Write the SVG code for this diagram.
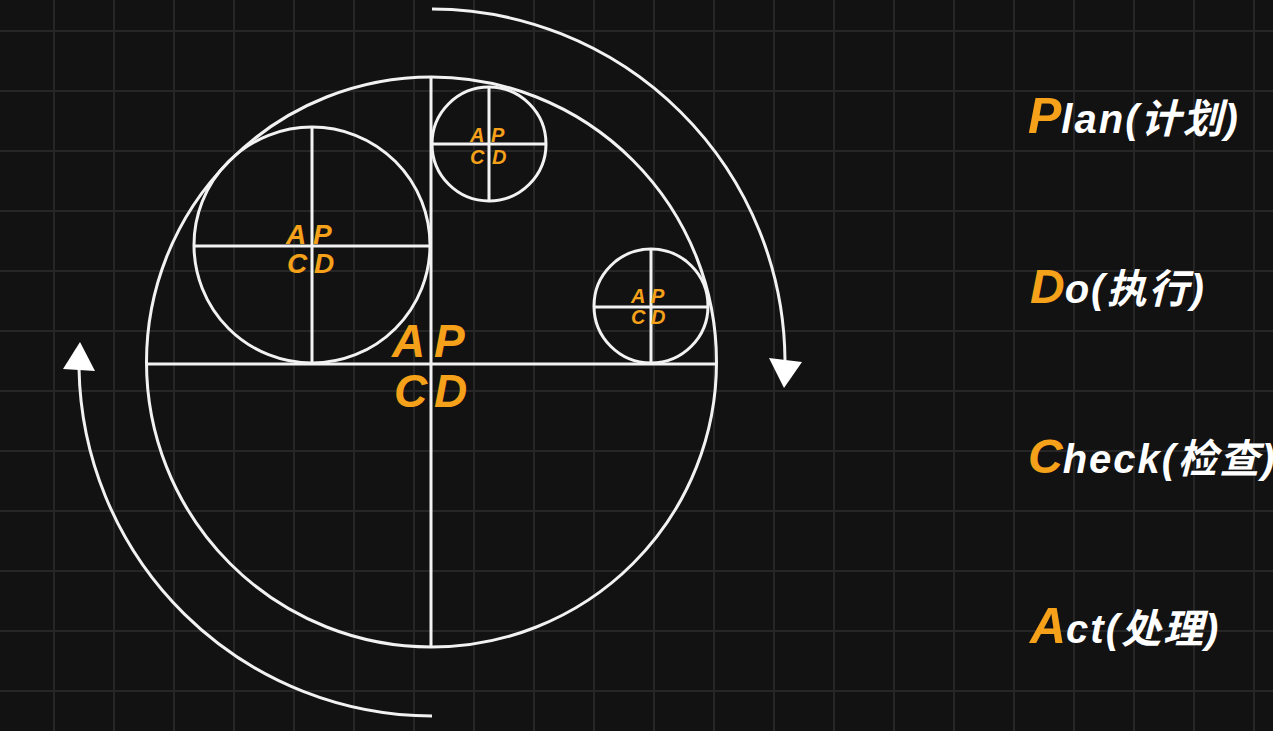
<svg xmlns="http://www.w3.org/2000/svg" width="1273" height="731" viewBox="0 0 1273 731">
<defs>
<style>
.grid{stroke:#262626;stroke-width:2;fill:none}
.ln{stroke:#f2f2f2;stroke-width:3;fill:none}
.arc{stroke:#f2f2f2;stroke-width:3;fill:none}
.head{fill:#ffffff}
.o{fill:#f5a11a;font-family:"Liberation Sans",Arial,sans-serif;font-weight:bold;font-style:italic}
.lbl{fill:#ffffff;font-family:"Liberation Sans","Noto Sans CJK SC",sans-serif;font-weight:bold;font-style:italic;font-size:40px;letter-spacing:2px}
.cap{fill:#f5a11a;font-family:"Liberation Sans",Arial,sans-serif;letter-spacing:0}
</style>
</defs>
<rect width="1273" height="731" fill="#121212"/>
<path class="grid" d="M54 0V731M114 0V731M174 0V731M234 0V731M294 0V731M354 0V731M414 0V731M474 0V731M534 0V731M594 0V731M654 0V731M714 0V731M774 0V731M834 0V731M894 0V731M954 0V731M1014 0V731M1074 0V731M1134 0V731M1194 0V731M1254 0V731M0 31H1273M0 91H1273M0 151H1273M0 211H1273M0 271H1273M0 331H1273M0 391H1273M0 451H1273M0 511H1273M0 571H1273M0 631H1273M0 691H1273"/>

<g id="main-circle">
<circle class="ln" cx="431.5" cy="362" r="285"/>
<path class="ln" d="M147 364H716M431 77V647"/>
<text class="o" font-size="46" x="392 434" y="357">AP</text>
<text class="o" font-size="46" x="394 434" y="407">CD</text>
</g>

<g id="left-circle">
<circle class="ln" cx="312" cy="245" r="118"/>
<path class="ln" d="M194 246H430M312 127V363"/>
<text class="o" font-size="28" x="286 313" y="244">AP</text>
<text class="o" font-size="28" x="287 314" y="273">CD</text>
</g>

<g id="top-circle">
<circle class="ln" cx="489" cy="144" r="57"/>
<path class="ln" d="M432 144H546M489 87V201"/>
<text class="o" font-size="20" x="470 491" y="142">AP</text>
<text class="o" font-size="20" x="470 492" y="164">CD</text>
</g>

<g id="right-circle">
<circle class="ln" cx="651" cy="306" r="57"/>
<path class="ln" d="M594 307H708M651 249V363"/>
<text class="o" font-size="20" x="631 651" y="303">AP</text>
<text class="o" font-size="20" x="631 651" y="324">CD</text>
</g>

<g id="connectors">
<path class="arc" d="M432 9A354 354 0 0 1 785 360"/>
<polygon class="head" points="769,358 802,362 784,388"/>
<path class="arc" d="M432 716A354 354 0 0 1 79 368"/>
<polygon class="head" points="80,342 63,369 95,371"/>
</g>

<g id="plan"><text class="lbl" x="1028" y="133"><tspan class="cap" font-size="50">P</tspan>lan(计划)</text></g>
<g id="do"><text class="lbl" x="1030" y="303"><tspan class="cap" font-size="48">D</tspan>o(执行)</text></g>
<g id="check"><text class="lbl" x="1028" y="473"><tspan class="cap" font-size="48">C</tspan>heck(检查)</text></g>
<g id="act"><text class="lbl" x="1030" y="643"><tspan class="cap" font-size="50">A</tspan>ct(处理)</text></g>
</svg>
